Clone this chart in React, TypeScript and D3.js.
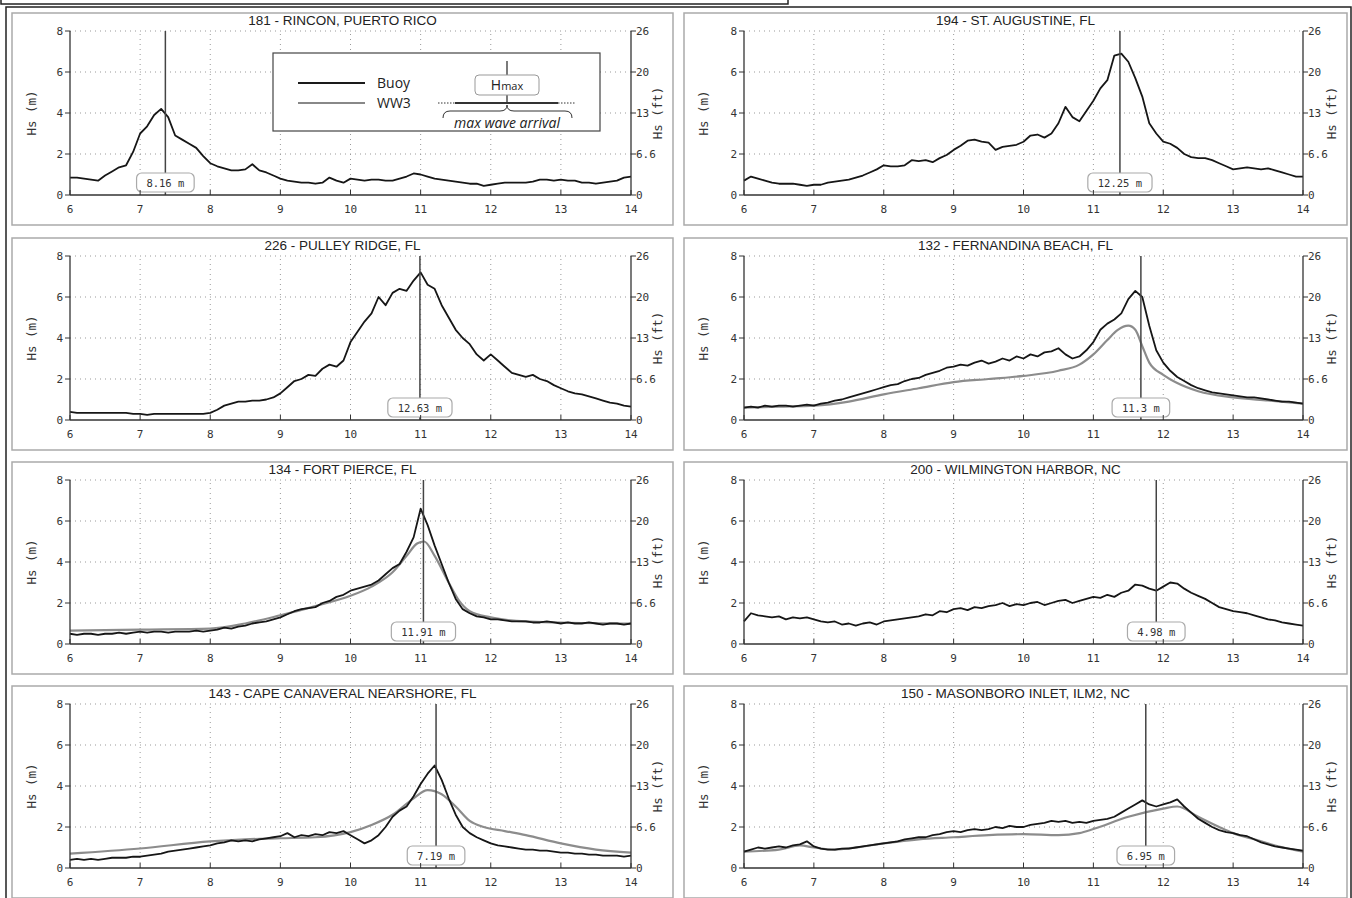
import React from "react";
import * as d3 from "d3";

// sampling of buoy records: every 0.1 day from day 6 to day 14
const days = d3.range(81).map((i) => 6 + i / 10);
const xTicks = [6, 7, 8, 9, 10, 11, 12, 13, 14];
const yTicks = [0, 2, 4, 6, 8];
const ftLabels = ["0", "6.6", "13", "20", "26"];

const rincon = [
  0.85, 0.85, 0.8, 0.75, 0.7, 0.95, 1.15, 1.35, 1.45, 2.1, 3.0,
  3.35, 3.9, 4.2, 3.8, 2.9, 2.7, 2.5, 2.3, 1.9, 1.55,
  1.4, 1.3, 1.2, 1.2, 1.25, 1.5, 1.2, 1.1, 0.95, 0.8,
  0.7, 0.65, 0.6, 0.6, 0.55, 0.6, 0.85, 0.7, 0.6, 0.8,
  0.75, 0.7, 0.75, 0.75, 0.7, 0.7, 0.8, 0.9, 1.05, 1.0,
  0.9, 0.8, 0.75, 0.7, 0.65, 0.6, 0.55, 0.55, 0.45, 0.5,
  0.55, 0.6, 0.6, 0.6, 0.6, 0.65, 0.75, 0.75, 0.7, 0.75,
  0.7, 0.7, 0.6, 0.6, 0.55, 0.6, 0.65, 0.7, 0.85, 0.9,
];

const stAugustine = [
  0.7, 0.9, 0.8, 0.7, 0.6, 0.55, 0.55, 0.55, 0.5, 0.45, 0.5,
  0.5, 0.6, 0.65, 0.7, 0.75, 0.85, 0.95, 1.1, 1.25, 1.45,
  1.4, 1.4, 1.45, 1.7, 1.65, 1.7, 1.6, 1.8, 1.95, 2.2,
  2.4, 2.65, 2.7, 2.6, 2.55, 2.2, 2.35, 2.4, 2.45, 2.6,
  2.9, 2.95, 2.8, 3.0, 3.5, 4.3, 3.8, 3.6, 4.1, 4.6,
  5.2, 5.6, 6.8, 6.9, 6.5, 5.7, 4.8, 3.5, 3.0, 2.6,
  2.5, 2.3, 2.0, 1.85, 1.8, 1.8, 1.7, 1.55, 1.4, 1.25,
  1.3, 1.35, 1.3, 1.25, 1.3, 1.2, 1.1, 1.0, 0.9, 0.9,
];

const pulleyRidge = [
  0.4, 0.35, 0.35, 0.35, 0.35, 0.35, 0.35, 0.35, 0.35, 0.3, 0.3,
  0.25, 0.3, 0.3, 0.3, 0.3, 0.3, 0.3, 0.3, 0.3, 0.35,
  0.5, 0.7, 0.8, 0.9, 0.9, 0.95, 0.95, 1.0, 1.1, 1.3,
  1.6, 1.9, 2.0, 2.2, 2.15, 2.5, 2.7, 2.6, 2.9, 3.8,
  4.3, 4.8, 5.2, 6.0, 5.6, 6.2, 6.4, 6.3, 6.8, 7.2,
  6.6, 6.4, 5.6, 5.0, 4.4, 4.0, 3.7, 3.2, 2.9, 3.2,
  2.9, 2.6, 2.3, 2.2, 2.1, 2.2, 2.0, 1.9, 1.7, 1.55,
  1.4, 1.3, 1.25, 1.15, 1.05, 0.95, 0.85, 0.8, 0.7, 0.65,
];

const fernandina = [
  0.6, 0.65, 0.6, 0.7, 0.65, 0.7, 0.7, 0.65, 0.7, 0.75, 0.7,
  0.8, 0.85, 0.95, 1.0, 1.1, 1.2, 1.3, 1.4, 1.5, 1.6,
  1.7, 1.75, 1.9, 2.0, 2.05, 2.2, 2.3, 2.4, 2.55, 2.6,
  2.7, 2.65, 2.8, 2.9, 2.75, 2.85, 3.0, 2.9, 3.1, 3.0,
  3.2, 3.1, 3.3, 3.35, 3.5, 3.2, 3.0, 3.1, 3.4, 3.8,
  4.4, 4.7, 4.9, 5.2, 5.9, 6.3, 6.0, 4.6, 3.4, 2.8,
  2.4, 2.1, 1.9, 1.7, 1.55, 1.45, 1.35, 1.3, 1.25, 1.2,
  1.15, 1.1, 1.1, 1.05, 1.0, 0.95, 0.9, 0.9, 0.85, 0.8,
];

const fortPierce = [
  0.5, 0.45, 0.5, 0.5, 0.45, 0.5, 0.5, 0.55, 0.5, 0.55, 0.6,
  0.55, 0.6, 0.6, 0.55, 0.6, 0.6, 0.6, 0.65, 0.6, 0.65,
  0.7, 0.8, 0.75, 0.85, 0.9, 1.0, 1.05, 1.1, 1.2, 1.3,
  1.45, 1.6, 1.7, 1.75, 1.8, 2.0, 2.1, 2.3, 2.4, 2.6,
  2.7, 2.8, 2.9, 3.1, 3.4, 3.7, 3.9, 4.5, 5.2, 6.6,
  5.8, 4.8, 3.9, 3.0, 2.2, 1.7, 1.5, 1.35, 1.3, 1.2,
  1.2, 1.15, 1.1, 1.1, 1.1, 1.05, 1.05, 1.1, 1.05, 1.0,
  1.05, 1.0, 1.0, 1.05, 1.0, 0.95, 1.0, 1.0, 0.95, 1.0,
];

const wilmington = [
  1.1, 1.5, 1.4, 1.35, 1.3, 1.35, 1.2, 1.3, 1.25, 1.3, 1.2,
  1.1, 1.05, 1.1, 0.95, 1.0, 0.9, 1.0, 1.05, 0.95, 1.1,
  1.15, 1.2, 1.25, 1.3, 1.35, 1.45, 1.4, 1.6, 1.55, 1.7,
  1.75, 1.65, 1.8, 1.75, 1.85, 1.9, 2.0, 1.85, 1.95, 1.9,
  2.0, 2.05, 1.9, 2.0, 2.1, 2.15, 2.0, 2.1, 2.2, 2.3,
  2.25, 2.4, 2.3, 2.5, 2.6, 2.9, 2.85, 2.7, 2.6, 2.8,
  3.0, 2.95, 2.7, 2.5, 2.35, 2.2, 2.0, 1.8, 1.7, 1.6,
  1.55, 1.5, 1.4, 1.3, 1.2, 1.15, 1.05, 1.0, 0.95, 0.9,
];

const capeCanaveral = [
  0.4, 0.45, 0.4, 0.45, 0.4, 0.45, 0.5, 0.5, 0.5, 0.55, 0.55,
  0.6, 0.65, 0.7, 0.8, 0.85, 0.9, 0.95, 1.0, 1.05, 1.1,
  1.2, 1.25, 1.35, 1.3, 1.35, 1.3, 1.4, 1.45, 1.5, 1.55,
  1.7, 1.5, 1.6, 1.55, 1.65, 1.6, 1.75, 1.7, 1.8, 1.6,
  1.4, 1.2, 1.35, 1.6, 2.0, 2.5, 2.8, 3.0, 3.5, 4.1,
  4.6, 5.0, 4.3, 3.4, 2.6, 2.0, 1.7, 1.5, 1.35, 1.2,
  1.1, 1.05, 1.0, 0.95, 0.9, 0.9, 0.85, 0.85, 0.8, 0.75,
  0.75, 0.7, 0.7, 0.65, 0.65, 0.6, 0.6, 0.6, 0.55, 0.6,
];

const masonboro = [
  0.8, 0.9, 1.0, 0.95, 1.0, 1.05, 1.0, 1.1, 1.15, 1.3, 1.05,
  0.95, 0.9, 0.9, 0.95, 0.95, 1.0, 1.05, 1.1, 1.15, 1.2,
  1.25, 1.3, 1.4, 1.45, 1.5, 1.5, 1.6, 1.65, 1.75, 1.8,
  1.75, 1.85, 1.9, 1.85, 1.9, 2.0, 1.95, 2.05, 2.0, 2.0,
  2.1, 2.15, 2.2, 2.3, 2.25, 2.3, 2.2, 2.25, 2.2, 2.3,
  2.35, 2.4, 2.5, 2.7, 2.9, 3.1, 3.3, 3.1, 3.0, 3.1,
  3.2, 3.35, 3.0, 2.7, 2.4, 2.2, 2.0, 1.85, 1.75, 1.7,
  1.6, 1.55, 1.4, 1.25, 1.15, 1.05, 1.0, 0.95, 0.9, 0.85,
];

// WW3 model: [day, Hs]
const ww3Fernandina: [number, number][] = [
  [6.0, 0.6], [6.5, 0.65], [7.0, 0.7], [7.5, 0.9], [8.0, 1.25], [8.5, 1.55],
  [9.0, 1.85], [9.5, 2.0], [10.0, 2.15], [10.5, 2.4], [10.8, 2.7], [11.0, 3.2],
  [11.2, 3.9], [11.35, 4.4], [11.5, 4.6], [11.6, 4.4], [11.7, 3.6], [11.8, 2.8],
  [12.0, 2.2], [12.2, 1.8], [12.5, 1.4], [13.0, 1.1], [13.5, 0.95], [14.0, 0.8],
];
const ww3FortPierce: [number, number][] = [
  [6.0, 0.65], [7.0, 0.7], [8.0, 0.75], [8.5, 1.0], [9.0, 1.4], [9.5, 1.85],
  [10.0, 2.35], [10.3, 2.8], [10.6, 3.5], [10.8, 4.3], [10.95, 4.9], [11.05, 5.0],
  [11.2, 4.3], [11.4, 3.0], [11.55, 2.1], [11.7, 1.6], [12.0, 1.3], [12.5, 1.1],
  [13.0, 1.05], [14.0, 1.0],
];
const ww3Canaveral: [number, number][] = [
  [6.0, 0.7], [7.0, 0.95], [8.0, 1.3], [8.5, 1.4], [9.0, 1.45], [9.5, 1.5],
  [10.0, 1.75], [10.3, 2.1], [10.6, 2.6], [10.9, 3.4], [11.1, 3.8], [11.3, 3.6],
  [11.5, 3.0], [11.7, 2.3], [11.9, 2.0], [12.2, 1.8], [12.5, 1.6], [13.0, 1.2],
  [13.5, 0.9], [14.0, 0.75],
];
const ww3Masonboro: [number, number][] = [
  [6.0, 0.8], [6.5, 0.9], [6.8, 1.1], [7.0, 1.0], [7.3, 0.9], [7.6, 1.0],
  [8.0, 1.2], [8.5, 1.4], [9.0, 1.5], [9.5, 1.6], [10.0, 1.65], [10.5, 1.6],
  [10.8, 1.7], [11.0, 1.9], [11.5, 2.5], [12.0, 2.9], [12.2, 3.0], [12.5, 2.5],
  [12.8, 2.0], [13.0, 1.7], [13.3, 1.4], [13.6, 1.1], [14.0, 0.8],
];

const titles = [
  "181 - RINCON, PUERTO RICO", "194 - ST. AUGUSTINE, FL",
  "226 - PULLEY RIDGE, FL", "132 - FERNANDINA BEACH, FL",
  "134 - FORT PIERCE, FL", "200 - WILMINGTON HARBOR, NC",
  "143 - CAPE CANAVERAL NEARSHORE, FL", "150 - MASONBORO INLET, ILM2, NC",
];
const buoys = [rincon, stAugustine, pulleyRidge, fernandina, fortPierce, wilmington, capeCanaveral, masonboro];
const models = [null, null, null, ww3Fernandina, ww3FortPierce, null, ww3Canaveral, ww3Masonboro];
const maxDay = [7.36, 11.38, 10.99, 11.68, 11.04, 11.9, 11.22, 11.75];
const maxLabel = ["8.16 m", "12.25 m", "12.63 m", "11.3 m", "11.91 m", "4.98 m", "7.19 m", "6.95 m"];

const cols = [
  { px: 12, pw: 661, x0: 70, x1: 631, labL: 36, labR: 662 },
  { px: 684, pw: 663, x0: 744, x1: 1303, labL: 708, labR: 1336 },
];
const rowTops = [13, 238, 462, 686];

const mono = "'DejaVu Sans Mono', monospace";
const narrow = "'Liberation Sans Narrow', 'Liberation Sans', Arial, sans-serif";

function Legend() {
  return (
    <g fontFamily="'Open Sans', sans-serif" fill="#222">
      <rect x={273} y={53} width={327} height={78} fill="#fff" stroke="#444" strokeWidth={1.2} />
      <line x1={298} x2={365} y1={83} y2={83} stroke="#1a1a1a" strokeWidth={2} />
      <line x1={298} x2={365} y1={103} y2={103} stroke="#888" strokeWidth={1.8} />
      <text x={377} y={88} fontSize={14}>Buoy</text>
      <text x={377} y={108} fontSize={14}>WW3</text>
      <line x1={507} x2={507} y1={61} y2={103} stroke="#333" strokeWidth={1.3} />
      <rect x={475} y={75} width={64} height={20} rx={4} fill="#fff" stroke="#999" />
      <text x={507} y={90} textAnchor="middle" fontSize={14}>
        H<tspan fontSize={11}>max</tspan>
      </text>
      <line x1={438} x2={455} y1={103} y2={103} stroke="#333" strokeDasharray="1.5,1.5" />
      <line x1={455} x2={558} y1={103} y2={103} stroke="#333" strokeWidth={2} />
      <line x1={558} x2={575} y1={103} y2={103} stroke="#333" strokeDasharray="1.5,1.5" />
      <path
        d="M443,118 Q443,111 450,111 L500,111 Q507,111 507,105 Q507,111 514,111 L565,111 Q572,111 572,118"
        fill="none" stroke="#333" strokeWidth={1}
      />
      <text x={507} y={128} textAnchor="middle" fontSize={14} fontStyle="italic">max wave arrival</text>
    </g>
  );
}

function Panel({ idx }: { idx: number }) {
  const col = cols[idx % 2];
  const top = rowTops[Math.floor(idx / 2)];
  const x = d3.scaleLinear().domain([6, 14]).range([col.x0, col.x1]);
  const y = d3.scaleLinear().domain([0, 8]).range([top + 182, top + 18]);
  const buoyLine = d3.line<number>().x((_, i) => x(days[i])).y((d) => y(d));
  const modelLine = d3.line<[number, number]>().x((d) => x(d[0])).y((d) => y(d[1])).curve(d3.curveMonotoneX);
  const model = models[idx];
  const mx = x(maxDay[idx]);
  const label = maxLabel[idx];
  const bw = label.length * 6.6 + 18;
  const yb = y(0);
  const midY = (y(0) + y(8)) / 2;
  return (
    <g>
      <rect x={col.px} y={top} width={col.pw} height={212} fill="#fff" stroke="#aaa" strokeWidth={1.5} />
      <text x={col.px + col.pw / 2} y={top + 12} textAnchor="middle" fontFamily={narrow} fontSize={13.5} fill="#222">
        {titles[idx]}
      </text>
      {xTicks.slice(1, -1).map((t) => (
        <line key={"gx" + t} x1={x(t)} x2={x(t)} y1={y(0)} y2={y(8)} stroke="#999" strokeDasharray="1,4" />
      ))}
      {yTicks.slice(1).map((t) => (
        <line key={"gy" + t} x1={x(6)} x2={x(14)} y1={y(t)} y2={y(t)} stroke="#999" strokeDasharray="1,4" />
      ))}
      {idx === 0 && <Legend />}
      {model && <path d={modelLine(model) || ""} fill="none" stroke="#8c8c8c" strokeWidth={2.2} />}
      <path d={buoyLine(buoys[idx]) || ""} fill="none" stroke="#161616" strokeWidth={1.8} strokeLinejoin="round" />
      <line x1={mx} x2={mx} y1={y(8)} y2={yb} stroke="#444" strokeWidth={1.5} />
      <rect x={mx - bw / 2} y={yb - 22} width={bw} height={19} rx={5} fill="#fff" stroke="#aaa" strokeWidth={1.2} />
      <text x={mx} y={yb - 8.5} textAnchor="middle" fontFamily={mono} fontSize={10.5} fill="#333">{label}</text>
      {/* axes */}
      <line x1={x(6)} x2={x(6)} y1={y(8)} y2={yb} stroke="#333" strokeWidth={1.3} />
      <line x1={x(14)} x2={x(14)} y1={y(8)} y2={yb} stroke="#333" strokeWidth={1.3} />
      <line x1={x(6)} x2={x(14)} y1={yb} y2={yb} stroke="#333" strokeWidth={1.3} />
      {xTicks.map((t) => (
        <g key={"xt" + t}>
          <line x1={x(t)} x2={x(t)} y1={yb} y2={yb - 5} stroke="#333" />
          <text x={x(t)} y={yb + 18} textAnchor="middle" fontFamily={mono} fontSize={11} fill="#333">{t}</text>
        </g>
      ))}
      {yTicks.map((t, i) => (
        <g key={"yt" + t}>
          <line x1={x(6) - 5} x2={x(6)} y1={y(t)} y2={y(t)} stroke="#333" />
          <line x1={x(14)} x2={x(14) + 5} y1={y(t)} y2={y(t)} stroke="#333" />
          <text x={x(6) - 7} y={y(t) + 4} textAnchor="end" fontFamily={mono} fontSize={11} fill="#333">{t}</text>
          <text x={x(14) + 5} y={y(t) + 4} fontFamily={mono} fontSize={11} fill="#333">{ftLabels[i]}</text>
        </g>
      ))}
      <text transform={`translate(${col.labL},${midY}) rotate(-90)`} textAnchor="middle" fontFamily={mono} fontSize={12.5} fill="#333">Hs (m)</text>
      <text transform={`translate(${col.labR},${midY}) rotate(-90)`} textAnchor="middle" fontFamily={mono} fontSize={12.5} fill="#333">Hs (ft)</text>
    </g>
  );
}

export default function App() {
  return (
    <svg width={1352} height={898} style={{ position: "absolute", left: 0, top: 0, background: "#fff" }}>
      <rect x={0} y={0} width={1352} height={898} fill="#fff" />
      <rect x={1} y={-10} width={787} height={14} fill="none" stroke="#222" strokeWidth={1.5} />
      <rect x={6} y={7} width={1345} height={900} fill="none" stroke="#222" strokeWidth={1.5} />
      {titles.map((_, i) => (
        <Panel key={i} idx={i} />
      ))}
    </svg>
  );
}
